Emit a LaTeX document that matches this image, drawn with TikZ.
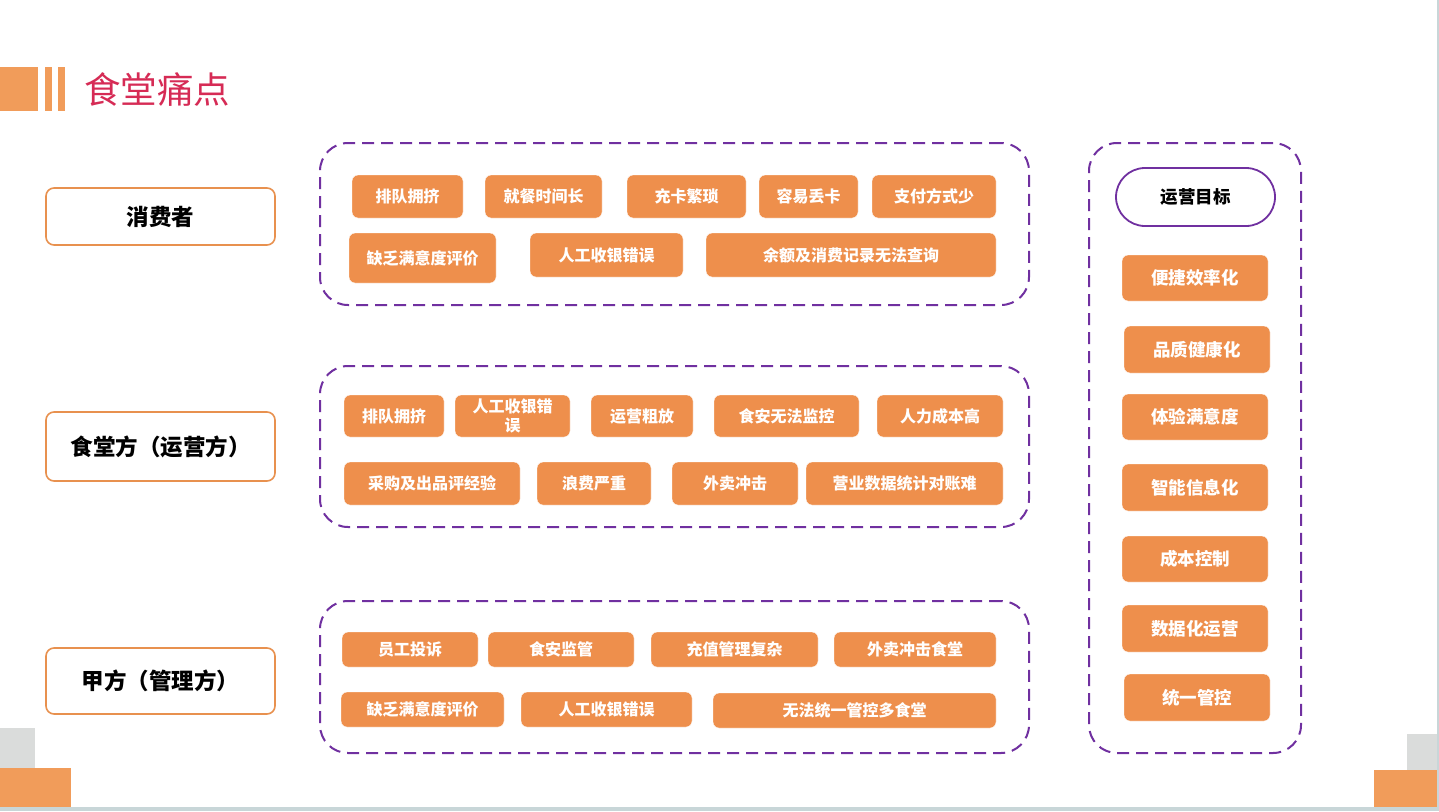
\documentclass[tikz,border=0pt]{standalone}
\usepackage{fontspec}
\setmainfont{Noto Sans CJK SC}
\definecolor{boxor}{HTML}{EE8F4C}
\definecolor{baror}{HTML}{F19C5A}
\definecolor{lineor}{HTML}{E8914F}
\definecolor{purp}{HTML}{7030A0}
\definecolor{ttl}{HTML}{D62B55}
\definecolor{cgray}{HTML}{DADCDB}
\definecolor{edge}{HTML}{C8D6D8}
\newcommand\bx[7]{\node[#1, minimum width={#5pt-#3pt}, minimum height={#6pt-#4pt}] (#2) at ({(#3+#5)/2},{(#4+#6)/2}) {#7};}
\tikzset{
  obox/.style={draw=white, line width=0.4pt, fill=boxor, rounded corners=6pt, inner sep=0pt, text=white, font=\fontsize{16}{16}\selectfont\bfseries, align=center},
  gbox/.style={obox, font=\fontsize{17.5}{17.5}\selectfont\bfseries},
  lbox/.style={draw=lineor, line width=1.6pt, fill=white, rounded corners=8pt, inner sep=0pt, font=\fontsize{22.5}{22.5}\selectfont\bfseries},
  grp/.style={draw=purp, line width=2pt, dash pattern=on 12pt off 7pt, rounded corners=28pt, inner sep=0pt},
  goal/.style={draw=purp, line width=1.8pt, fill=white, rounded corners=29pt, inner sep=0pt, font=\fontsize{17.5}{17.5}\selectfont\bfseries}
}
\begin{document}
\begin{tikzpicture}[x=1pt,y=-1pt]
\useasboundingbox (0,0) rectangle (1439,811);
\fill[white] (0,0) rectangle (1439,811);
% decorations
\fill[baror] (0,67) rectangle (38,111);
\fill[baror] (45,67) rectangle (52,111);
\fill[baror] (58,67) rectangle (65,111);
\node[anchor=west, inner sep=0pt, text=ttl, font=\fontsize{36.5}{36.5}\selectfont] (title) at (84,90) {食堂痛点};
\fill[cgray] (0,728) rectangle (35,768);
\fill[baror] (0,768) rectangle (71,807);
\fill[cgray] (1407,734) rectangle (1437,770);
\fill[baror] (1374,770) rectangle (1437,807);
\fill[edge] (0,807) rectangle (1439,811);
\fill[edge] (1437,0) rectangle (1439,811);
% left labels
\bx{lbox}{l1}{46}{188}{275}{245}{消费者}
\bx{lbox}{l2}{46}{412}{275}{481}{食堂方（运营方）}
\bx{lbox}{l3}{46}{648}{275}{714}{甲方（管理方）}
% groups
\bx{grp}{G1}{320}{143}{1029}{305}{}
\bx{grp}{G2}{320}{366}{1029}{527}{}
\bx{grp}{G3}{320}{601}{1029}{753}{}
\bx{grp}{G4}{1089}{143}{1301}{753}{}
% consumer
\bx{obox}{c1}{352}{175}{463}{218}{排队拥挤}
\bx{obox}{c2}{485}{175}{602}{218}{就餐时间长}
\bx{obox}{c3}{627}{175}{746}{218}{充卡繁琐}
\bx{obox}{c4}{759}{175}{858}{218}{容易丢卡}
\bx{obox}{c5}{872}{175}{996}{218}{支付方式少}
\bx{obox}{c6}{349}{233}{496}{283}{缺乏满意度评价}
\bx{obox}{c7}{530}{233}{683}{277}{人工收银错误}
\bx{obox}{c8}{706}{233}{996}{277}{余额及消费记录无法查询}
% operator
\bx{obox}{o1}{344}{395}{444}{437}{排队拥挤}
\bx{obox}{o2}{455}{395}{570}{437}{人工收银错\\[3pt]误}
\bx{obox}{o3}{591}{395}{693}{437}{运营粗放}
\bx{obox}{o4}{714}{395}{859}{437}{食安无法监控}
\bx{obox}{o5}{877}{395}{1003}{437}{人力成本高}
\bx{obox}{o6}{344}{462}{520}{505}{采购及出品评经验}
\bx{obox}{o7}{537}{462}{651}{505}{浪费严重}
\bx{obox}{o8}{672}{462}{798}{505}{外卖冲击}
\bx{obox}{o9}{806}{462}{1003}{505}{营业数据统计对账难}
% party
\bx{obox}{p1}{342}{632}{478}{667}{员工投诉}
\bx{obox}{p2}{488}{632}{634}{667}{食安监管}
\bx{obox}{p3}{651}{632}{818}{667}{充值管理复杂}
\bx{obox}{p4}{834}{632}{996}{667}{外卖冲击食堂}
\bx{obox}{p5}{341}{692}{504}{727}{缺乏满意度评价}
\bx{obox}{p6}{521}{692}{692}{727}{人工收银错误}
\bx{obox}{p7}{713}{693}{996}{728}{无法统一管控多食堂}
% goals
\bx{goal}{g0}{1116}{168}{1275}{226}{运营目标}
\bx{gbox}{g1}{1122}{255}{1268}{301}{便捷效率化}
\bx{gbox}{g2}{1124}{326}{1270}{373}{品质健康化}
\bx{gbox}{g3}{1122}{394}{1268}{440}{体验满意度}
\bx{gbox}{g4}{1122}{464}{1268}{511}{智能信息化}
\bx{gbox}{g5}{1122}{536}{1268}{582}{成本控制}
\bx{gbox}{g6}{1122}{605}{1268}{652}{数据化运营}
\bx{gbox}{g7}{1124}{674}{1270}{721}{统一管控}
\end{tikzpicture}
\end{document}
